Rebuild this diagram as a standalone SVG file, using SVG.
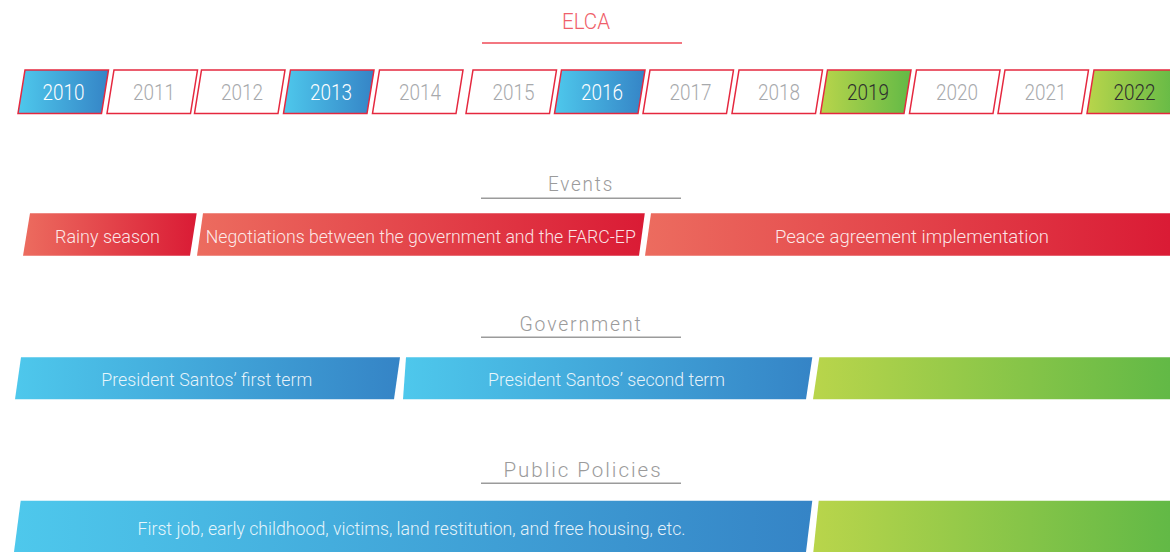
<svg xmlns="http://www.w3.org/2000/svg" width="1170" height="552" viewBox="0 0 1170 552">
  <defs>
    <linearGradient id="gBlue" x1="0" y1="0" x2="1" y2="0">
      <stop offset="0" stop-color="#4ec8ec"/>
      <stop offset="1" stop-color="#3584c6"/>
    </linearGradient>
    <linearGradient id="gRed" x1="0" y1="0" x2="1" y2="0">
      <stop offset="0" stop-color="#ec6c5f"/>
      <stop offset="1" stop-color="#da1b35"/>
    </linearGradient>
    <linearGradient id="gGreen" x1="0" y1="0" x2="1" y2="0">
      <stop offset="0" stop-color="#b9d54b"/>
      <stop offset="1" stop-color="#62b946"/>
    </linearGradient>
    <style>
      text { font-family: Roboto, "Liberation Sans", sans-serif; font-weight: 300; text-anchor: middle; }
      .year { fill: #ffffff; stroke: #e5283f; stroke-width: 1.5; }
      .year.blue { fill: url(#gBlue); }
      .year.green { fill: url(#gGreen); }
      .ytxt { font-size: 22px; fill: #a7a9ac; }
      .ytxt.onblue { fill: #ffffff; }
      .ytxt.ongreen { fill: #2e2e2e; }
      .head { font-size: 21px; fill: #9b9b9b; letter-spacing: 2px; }
      .rule { stroke: #9b9b9b; stroke-width: 1.5; }
      .bar-red { fill: url(#gRed); }
      .bar-blue { fill: url(#gBlue); }
      .bar-green { fill: url(#gGreen); }
      .btxt { font-size: 18px; fill: #ffffff; fill-opacity: 0.88; }
    </style>
  </defs>

  <!-- Title -->
  <g id="title">
    <text x="586" y="29.3" font-size="22" fill="#ef5f6b" textLength="48" lengthAdjust="spacingAndGlyphs">ELCA</text>
    <line x1="482" y1="43" x2="682" y2="43" stroke="#ef4a57" stroke-width="1.5"/>
  </g>

  <!-- Year strip -->
  <g id="years">
    <g id="y2010"><path class="year blue" d="M25 70 H108.5 L101.5 113.5 H18 Z"/><text class="ytxt onblue" x="63.5" y="99.5" textLength="42" lengthAdjust="spacingAndGlyphs">2010</text></g>
    <g id="y2011"><path class="year" d="M114 70 H197.5 L190.5 113.5 H107 Z"/><text class="ytxt" x="154" y="99.5" textLength="42" lengthAdjust="spacingAndGlyphs">2011</text></g>
    <g id="y2012"><path class="year" d="M201.5 70 H285 L278 113.5 H194.5 Z"/><text class="ytxt" x="242" y="99.5" textLength="42" lengthAdjust="spacingAndGlyphs">2012</text></g>
    <g id="y2013"><path class="year blue" d="M290.5 70 H374 L367 113.5 H283.5 Z"/><text class="ytxt onblue" x="331" y="99.5" textLength="42" lengthAdjust="spacingAndGlyphs">2013</text></g>
    <g id="y2014"><path class="year" d="M379.5 70 H463 L456 113.5 H372.5 Z"/><text class="ytxt" x="420" y="99.5" textLength="42" lengthAdjust="spacingAndGlyphs">2014</text></g>
    <g id="y2015"><path class="year" d="M473 70 H556.5 L549.5 113.5 H466 Z"/><text class="ytxt" x="513.5" y="99.5" textLength="42" lengthAdjust="spacingAndGlyphs">2015</text></g>
    <g id="y2016"><path class="year blue" d="M561.5 70 H645 L638 113.5 H554.5 Z"/><text class="ytxt onblue" x="602" y="99.5" textLength="42" lengthAdjust="spacingAndGlyphs">2016</text></g>
    <g id="y2017"><path class="year" d="M650 70 H733.5 L726.5 113.5 H643 Z"/><text class="ytxt" x="690.5" y="99.5" textLength="42" lengthAdjust="spacingAndGlyphs">2017</text></g>
    <g id="y2018"><path class="year" d="M739 70 H822.5 L815.5 113.5 H732 Z"/><text class="ytxt" x="779" y="99.5" textLength="42" lengthAdjust="spacingAndGlyphs">2018</text></g>
    <g id="y2019"><path class="year green" d="M827.5 70 H911 L904 113.5 H820.5 Z"/><text class="ytxt ongreen" x="868" y="99.5" textLength="42" lengthAdjust="spacingAndGlyphs">2019</text></g>
    <g id="y2020"><path class="year" d="M916.5 70 H1000 L993 113.5 H909.5 Z"/><text class="ytxt" x="957" y="99.5" textLength="42" lengthAdjust="spacingAndGlyphs">2020</text></g>
    <g id="y2021"><path class="year" d="M1005 70 H1088.5 L1081.5 113.5 H998 Z"/><text class="ytxt" x="1045.5" y="99.5" textLength="42" lengthAdjust="spacingAndGlyphs">2021</text></g>
    <g id="y2022"><path class="year green" d="M1094 70 H1177.5 L1170.5 113.5 H1087 Z"/><text class="ytxt ongreen" x="1134.5" y="99.5" textLength="42" lengthAdjust="spacingAndGlyphs">2022</text></g>
  </g>

  <!-- Events -->
  <g id="events-heading">
    <text class="head" x="581" y="191" textLength="66" lengthAdjust="spacingAndGlyphs">Events</text>
    <line class="rule" x1="481" y1="198.3" x2="681" y2="198.3"/>
  </g>
  <g id="ev-rainy">
    <path class="bar-red" d="M30 213.3 H196.7 L190 255.7 H23 Z"/>
    <text class="btxt" x="107.5" y="242.7" textLength="105" lengthAdjust="spacingAndGlyphs">Rainy season</text>
  </g>
  <g id="ev-negotiations">
    <path class="bar-red" d="M203 213.3 H644.8 L639 255.7 H197 Z"/>
    <text class="btxt" x="420.8" y="242.7" textLength="430" lengthAdjust="spacingAndGlyphs">Negotiations between the government and the FARC-EP</text>
  </g>
  <g id="ev-peace">
    <path class="bar-red" d="M651 213.3 H1170 V255.7 H645 Z"/>
    <text class="btxt" x="912" y="242.7" textLength="274" lengthAdjust="spacingAndGlyphs">Peace agreement implementation</text>
  </g>

  <!-- Government -->
  <g id="government-heading">
    <text class="head" x="581" y="331" textLength="123" lengthAdjust="spacingAndGlyphs">Government</text>
    <line class="rule" x1="481" y1="337.3" x2="681" y2="337.3"/>
  </g>
  <g id="gov-first">
    <path class="bar-blue" d="M21 357.3 H400 L394 399.3 H15 Z"/>
    <text class="btxt" x="206.8" y="386" textLength="211" lengthAdjust="spacingAndGlyphs">President Santos’ first term</text>
  </g>
  <g id="gov-second">
    <path class="bar-blue" d="M406 357.3 H812.3 L806 399.3 H403 Z"/>
    <text class="btxt" x="606.5" y="386" textLength="237" lengthAdjust="spacingAndGlyphs">President Santos’ second term</text>
  </g>
  <g id="gov-next">
    <path class="bar-green" d="M819.3 357.3 H1170 V399.3 H813 Z"/>
  </g>

  <!-- Public policies -->
  <g id="policies-heading">
    <text class="head" x="583" y="476.7" textLength="159" lengthAdjust="spacingAndGlyphs">Public Policies</text>
    <line class="rule" x1="481" y1="483.3" x2="681" y2="483.3"/>
  </g>
  <g id="pol-santos">
    <path class="bar-blue" d="M20.7 500.7 H812.3 L806 552 H14 Z"/>
    <text class="btxt" x="411.5" y="535" textLength="548" lengthAdjust="spacingAndGlyphs">First job, early childhood, victims, land restitution, and free housing, etc.</text>
  </g>
  <g id="pol-next">
    <path class="bar-green" d="M818.7 500.7 H1170 V552 H813.3 Z"/>
  </g>

  <g id="connectors"/>
</svg>
